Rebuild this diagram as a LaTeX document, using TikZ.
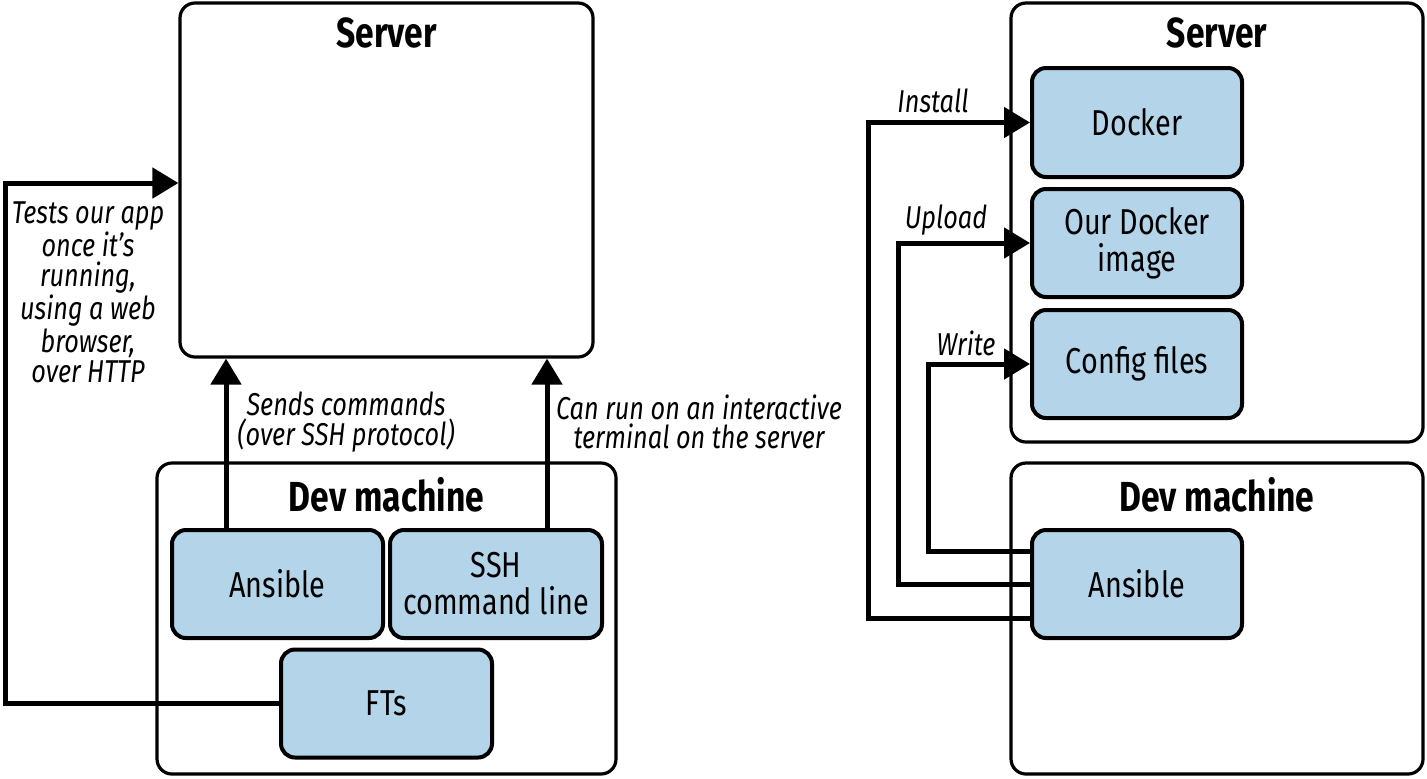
\documentclass[tikz,border=0pt]{standalone}
\usepackage{fontspec}
\setmainfont{Fira Sans}[FakeStretch=0.8]
\usetikzlibrary{arrows.meta,calc}
\definecolor{boxblue}{RGB}{180,212,234}
\tikzset{
  outer/.style={draw=black, line width=1.6pt, rounded corners=7.5pt, inner sep=0pt},
  inner/.style={draw=black, fill=boxblue, line width=2pt, rounded corners=7pt, inner sep=0pt,
    minimum width=105.5pt, minimum height=54pt, align=center,
    font=\fontsize{18}{18.5}\selectfont},
  title/.style={font=\bfseries\fontsize{21}{22}\selectfont, inner sep=0pt},
  lbl/.style={font=\itshape\fontsize{15.8}{14.8}\selectfont, align=center, inner sep=0pt},
  conn/.style={line width=2.5pt},
  arr/.style={conn, -{Triangle[length=13pt,width=15pt]}},
}
\begin{document}
\begin{tikzpicture}[x=0.5pt,y=-0.5pt]
\useasboundingbox (0,0) rectangle (1427,778);
% ---------- left ----------
\node[outer, minimum width=206.5pt, minimum height=177pt] (srvL) at (386.5,180) {};
\node[title] (srvLt) at (386.5,33) {Server};
\node[outer, minimum width=229.5pt, minimum height=155.5pt] (devL) at (386.5,618.5) {};
\node[title] (devLt) at (386.5,495) {Dev machine};
\coordinate (xa) at (226,0);
\coordinate (xb) at (547,0);
\coordinate (xc) at (5,0);
\node[lbl] (tests) at (88,292) {Tests our app\\once it’s\\running,\\using a web\\browser,\\over HTTP};
\node[lbl] (sends) at (346,422) {Sends commands\\(over SSH protocol)};
\node[lbl] (canrun) at (699,422) {Can run on an interactive\\terminal on the server};
\node[inner] (ansL) at (277.5,584) {Ansible};
\node[inner, minimum width=106pt] (ssh) at (496,584) {SSH\\command line};
\node[inner] (fts) at (386.5,703.5) {FTs};
\draw[arr] (ansL.north -| xa) -- (srvL.south -| xa);
\draw[arr] (ssh.north -| xb) -- (srvL.south -| xb);
\draw[arr] (fts.west) -- (xc |- fts.west) -- (5,183) -- ([yshift=-1.5pt]srvL.west);
% ---------- right ----------
\node[outer, minimum width=206pt, minimum height=219.5pt] (srvR) at (1217,222.5) {};
\node[title] (srvRt) at (1217,33) {Server};
\node[outer, minimum width=206pt, minimum height=155.5pt] (devR) at (1217,618.5) {};
\node[title] (devRt) at (1217,495) {Dev machine};
\node[inner, minimum width=105pt, minimum height=54.5pt] (docker) at (1137,122.5) {Docker};
\node[inner, minimum width=105pt] (image) at (1137,243) {Our Docker\\image};
\node[inner, minimum width=105pt] (config) at (1137,364) {Config files};
\node[inner, minimum width=105pt] (ansR) at (1137,584) {Ansible};
\draw[arr] ([yshift=-17pt]ansR.west) -- ++(-162,0) |- (docker.west);
\draw[arr] (ansR.west) -- ++(-132,0) |- (image.west);
\draw[arr] ([yshift=16.5pt]ansR.west) -- ++(-102,0) |- (config.west);
\node[lbl] (install) at (933,101) {Install};
\node[lbl] (upload) at (946,220) {Upload};
\node[lbl] (write) at (966,343) {Write};
\end{tikzpicture}
\end{document}
